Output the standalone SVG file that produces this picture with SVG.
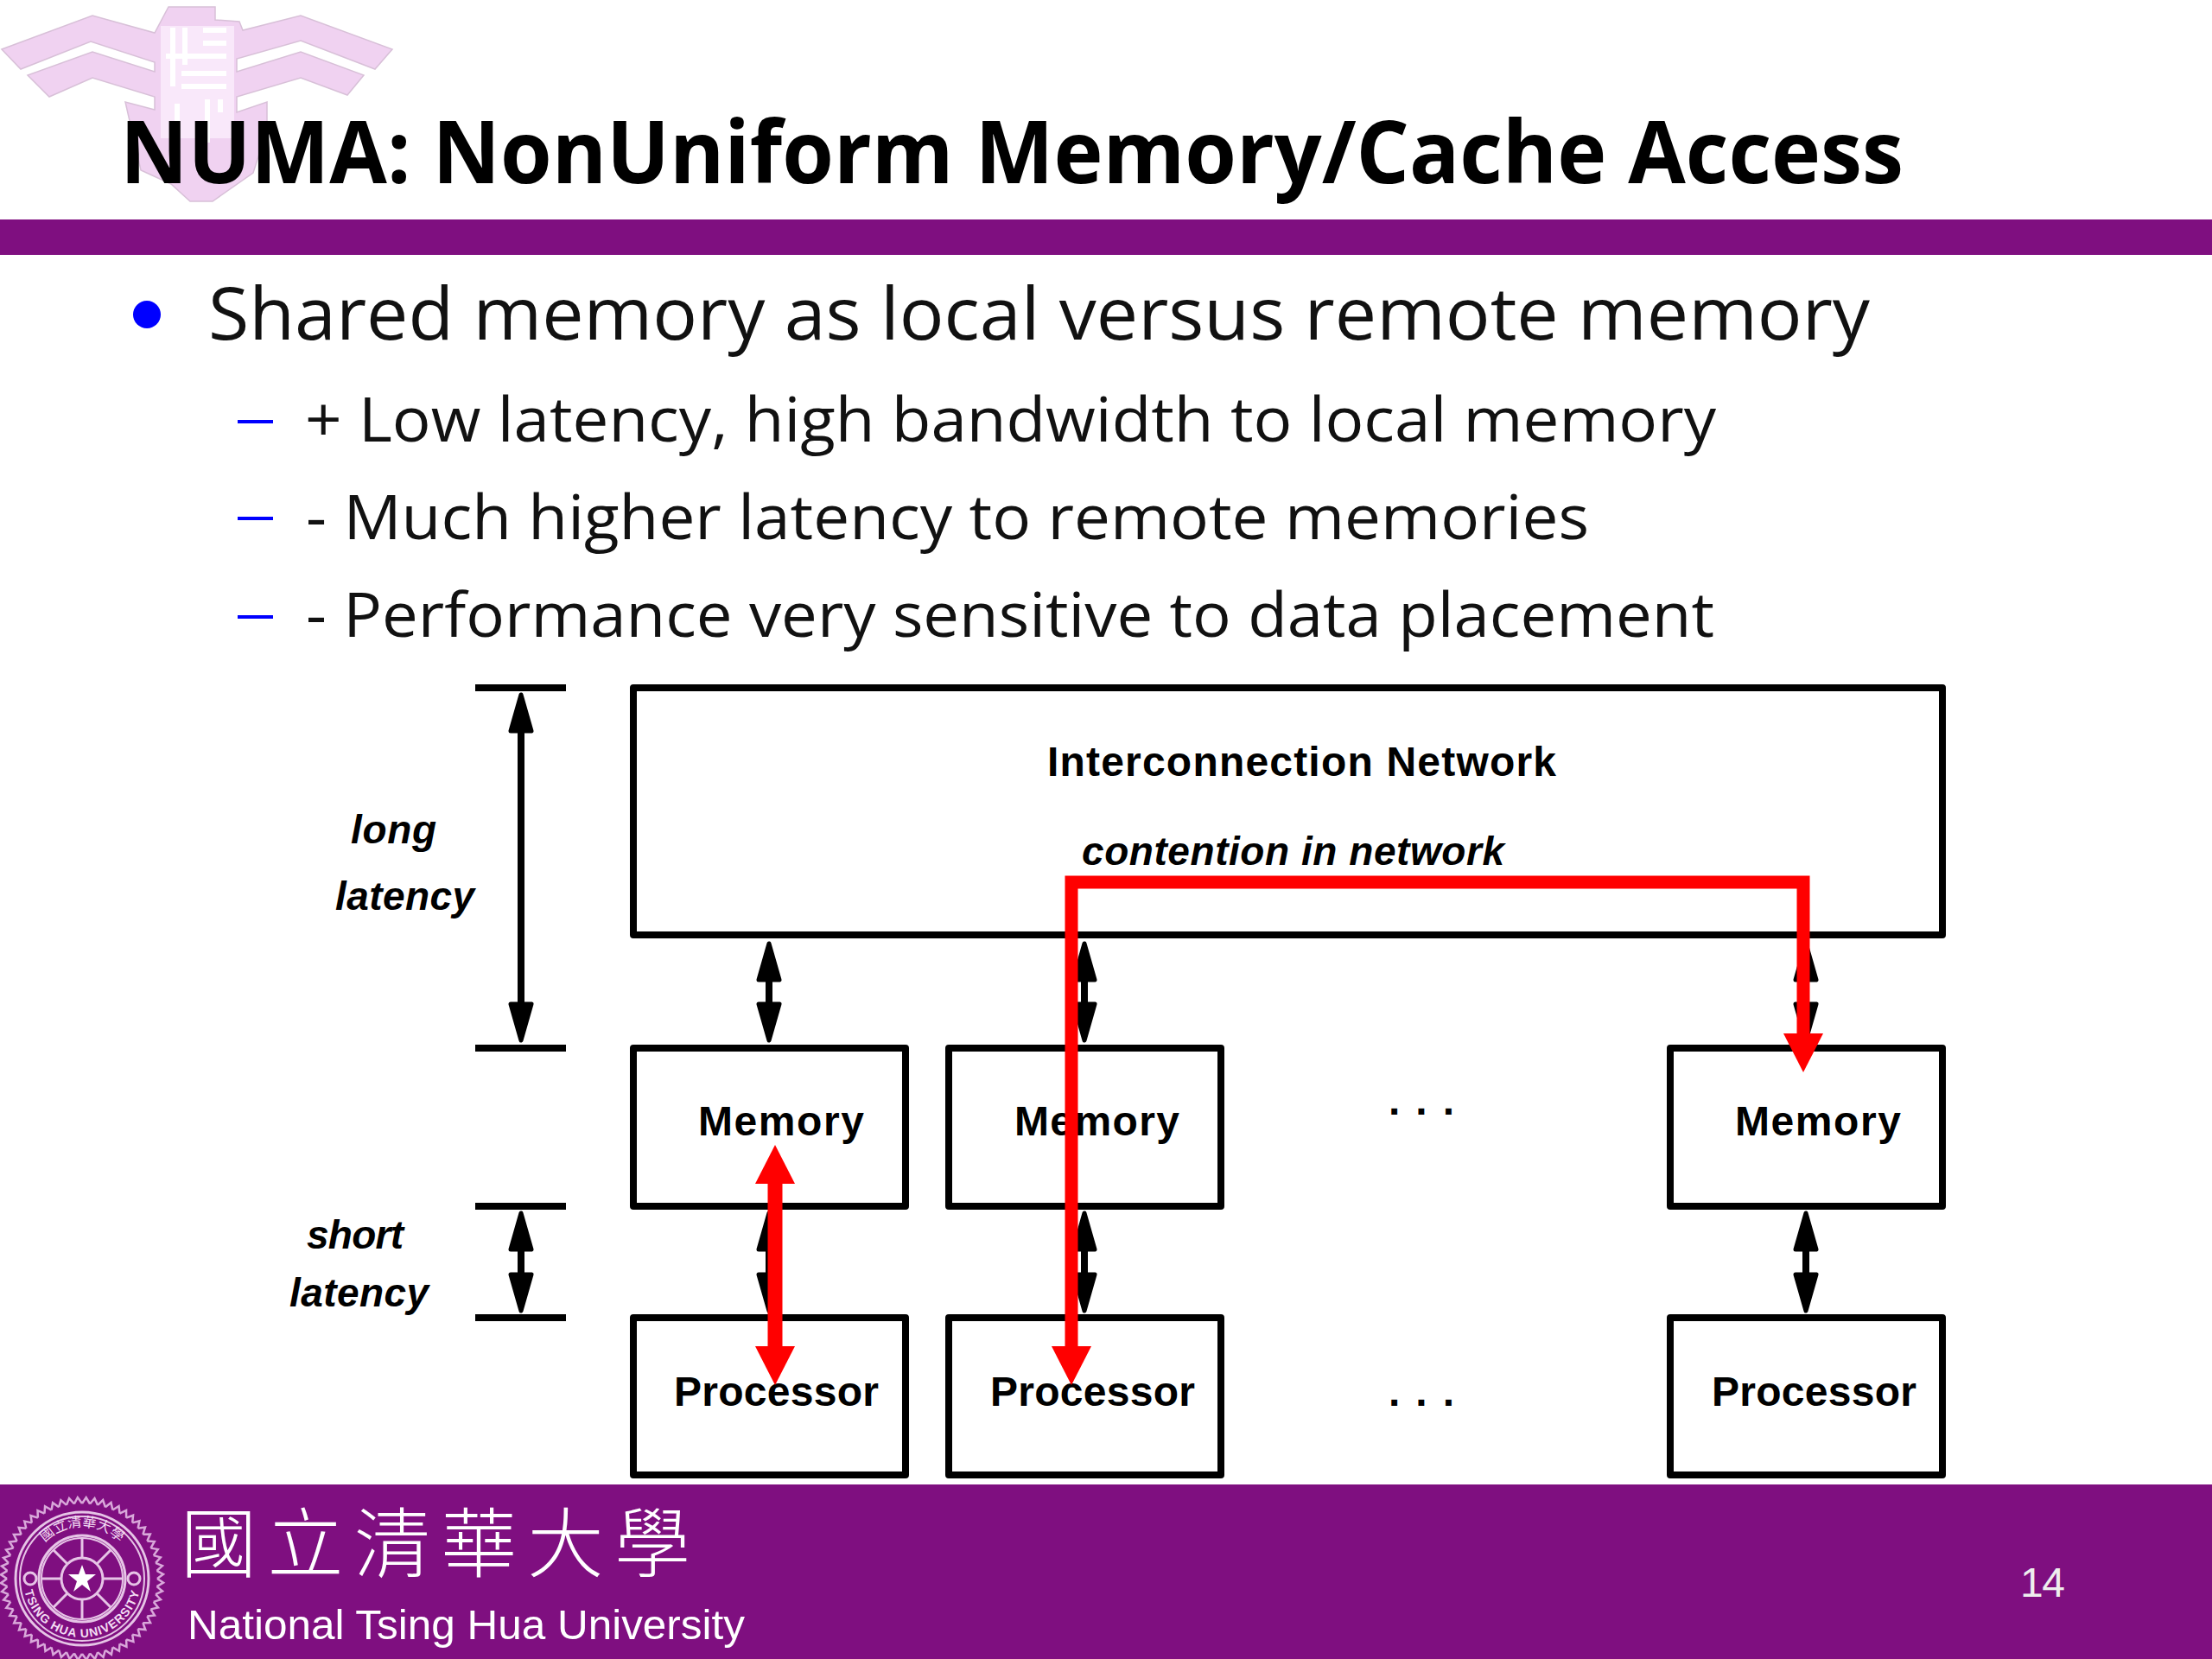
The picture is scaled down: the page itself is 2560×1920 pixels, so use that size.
<svg xmlns="http://www.w3.org/2000/svg" width="2560" height="1920" viewBox="0 0 2560 1920">
<style>
.title{font-family:"Open Sans","Noto Sans",sans-serif;font-weight:700;font-size:100px;fill:#000}
.body{font-family:"Open Sans","Noto Sans",sans-serif;fill:#111}
.l1{font-size:84px}.l2{font-size:71px}
.box{fill:#fff;stroke:#000;stroke-width:8;stroke-linejoin:round}
.nl{font-family:"Liberation Sans",Arial,sans-serif;font-weight:700;font-size:48px;fill:#000}
.it{font-family:"Liberation Sans",Arial,sans-serif;font-weight:700;font-style:italic;font-size:46px;fill:#000}
.dash{stroke:#0000ff;stroke-width:4;fill:none}
.dim{stroke:#000;stroke-width:8;fill:none}
.rd{stroke:#ff0000;stroke-width:15;fill:none;stroke-linejoin:miter}
.seal{fill:none;stroke:#e6c4e6}
</style>
<defs>
<polygon id="bh" points="0,0 12,42 -12,42" fill="#000" stroke="#000" stroke-width="5" stroke-linejoin="round"/>
<polygon id="rh" points="0,0 23,45 -23,45" fill="#ff0000"/>
<path id="t1" d="M0 -87L4.7 -94L9.1 -86.5" fill="none" stroke="#d9a8da" stroke-width="2.5"/>
<g id="t5"><use href="#t1"/><use href="#t1" transform="rotate(6)"/><use href="#t1" transform="rotate(12)"/><use href="#t1" transform="rotate(18)"/><use href="#t1" transform="rotate(24)"/></g>
<g id="t20"><use href="#t5"/><use href="#t5" transform="rotate(30)"/><use href="#t5" transform="rotate(60)"/><use href="#t5" transform="rotate(90)"/></g>
</defs>
<rect width="2560" height="1920" fill="#fff"/>

<g id="logo">
<polygon fill="#f0d2f1" stroke="#d8c0d8" stroke-width="1.5" points="2,57 107,18 179,38 195,8 249,8 249,23 277,25 281,35 348,18 454,57 434,80 348,47 274,68 274,83 348,60 421,87 402,110 348,90 274,112 274,130 309,118 309,150 293,200 246,233 220,233 198,213 163,197 145,118 179,127 179,112 107,90 57,112 32,87 107,60 179,83 179,72 105,48 24,80"/>
<rect x="186" y="30" width="85" height="130" fill="#f9e8fa"/>
<path d="M200 32V100M214 32V75M235 35H262M235 50H262M192 65H262M210 85H262M210 100H262M205 120V150M240 115V165M255 115V130" stroke="#fff" stroke-width="6" fill="none"/>
</g>

<rect id="top-band" x="0" y="254" width="2560" height="41" fill="#7f0f80"/>
<text id="title" class="title" x="139" y="212" textLength="2064" lengthAdjust="spacingAndGlyphs">NUMA: NonUniform Memory/Cache Access</text>

<g id="bullets">
<circle cx="170" cy="364" r="16" fill="#0000ff"/>
<text class="body l1" x="241" y="393" textLength="1923" lengthAdjust="spacingAndGlyphs">Shared memory as local versus remote memory</text>
<path class="dash" d="M275 488H316M275 600H316M275 714H316"/>
<text class="body l2" x="353" y="511" textLength="1633" lengthAdjust="spacingAndGlyphs">+ Low latency, high bandwidth to local memory</text>
<text class="body l2" x="354" y="624" textLength="1485" lengthAdjust="spacingAndGlyphs">- Much higher latency to remote memories</text>
<text class="body l2" x="354" y="737" textLength="1630" lengthAdjust="spacingAndGlyphs">- Performance very sensitive to data placement</text>
</g>

<g id="network"><rect class="box" x="733" y="796" width="1515" height="286"/>
<text class="nl" x="1212" y="898" textLength="589">Interconnection Network</text>
<text class="it" x="1252" y="1001" textLength="489">contention in network</text></g>
<g id="memory-1"><rect class="box" x="733" y="1213" width="315" height="183"/><text class="nl" x="808" y="1314" textLength="192">Memory</text></g>
<g id="memory-2"><rect class="box" x="1098" y="1213" width="315" height="183"/><text class="nl" x="1174" y="1314" textLength="191">Memory</text></g>
<g id="memory-3"><rect class="box" x="1933" y="1213" width="315" height="183"/><text class="nl" x="2008" y="1314" textLength="192">Memory</text></g>
<g id="processor-1"><rect class="box" x="733" y="1525" width="315" height="182"/><text class="nl" x="780" y="1627" textLength="237">Processor</text></g>
<g id="processor-2"><rect class="box" x="1098" y="1525" width="315" height="182"/><text class="nl" x="1146" y="1627" textLength="237">Processor</text></g>
<g id="processor-3"><rect class="box" x="1933" y="1525" width="315" height="182"/><text class="nl" x="1981" y="1627" textLength="237">Processor</text></g>
<g id="dots-1"><text class="nl" x="1607" y="1290" textLength="76">. . .</text></g>
<g id="dots-2"><text class="nl" x="1607" y="1627" textLength="76">. . .</text></g>
<g id="long-latency"><text class="it" x="406" y="976" textLength="99">long</text><text class="it" x="388" y="1053" textLength="161">latency</text></g>
<g id="short-latency"><text class="it" x="355" y="1445" textLength="112">short</text><text class="it" x="335" y="1512" textLength="161">latency</text></g>

<g id="connectors">
<path class="dim" d="M550 796H655M550 1213H655M550 1396H655M550 1525H655"/>
<g id="black-arrows" stroke="#000" stroke-width="8">
<path d="M603 830V1180M603 1430V1495M890 1125V1175M890 1435V1490M1255 1125V1175M1255 1435V1490M2090 1125V1175M2090 1435V1490"/>
<use href="#bh" x="603" y="804"/><use href="#bh" transform="translate(603 1204) scale(1 -1)"/>
<use href="#bh" x="603" y="1404"/><use href="#bh" transform="translate(603 1517) scale(1 -1)"/>
<use href="#bh" x="890" y="1092"/><use href="#bh" transform="translate(890 1204) scale(1 -1)"/>
<use href="#bh" x="890" y="1404"/><use href="#bh" transform="translate(890 1517) scale(1 -1)"/>
<use href="#bh" x="1255" y="1092"/><use href="#bh" transform="translate(1255 1204) scale(1 -1)"/>
<use href="#bh" x="1255" y="1404"/><use href="#bh" transform="translate(1255 1517) scale(1 -1)"/>
<use href="#bh" x="2090" y="1092"/><use href="#bh" transform="translate(2090 1204) scale(1 -1)"/>
<use href="#bh" x="2090" y="1404"/><use href="#bh" transform="translate(2090 1517) scale(1 -1)"/>
</g>
<g id="red-arrows">
<path class="rd" style="stroke-width:17" d="M897 1368V1560"/>
<use href="#rh" x="897" y="1325"/><use href="#rh" transform="translate(897 1603) scale(1 -1)"/>
<path class="rd" d="M1240 1560V1021H2087V1205"/>
<use href="#rh" transform="translate(1240 1603) scale(1 -1)"/>
<use href="#rh" transform="translate(2087 1241) scale(1 -1)"/>
</g>
</g>

<g id="footer">
<rect x="0" y="1718" width="2560" height="202" fill="#7f0f80"/>
<g transform="translate(95 1827)"><use href="#t20"/><use href="#t20" transform="rotate(120)"/><use href="#t20" transform="rotate(240)"/></g>
<circle cx="95" cy="1827" r="77" class="seal" stroke-width="3"/>
<circle cx="95" cy="1827" r="72" class="seal" stroke-width="2"/>
<circle cx="95" cy="1827" r="50" class="seal" stroke-width="3"/>
<circle cx="95" cy="1827" r="47" class="seal" stroke-width="2"/>
<circle cx="95" cy="1827" r="24" class="seal" stroke-width="3"/>
<path class="seal" stroke-width="3" d="M95 1803V1780M95 1851V1874M71 1827H48M119 1827H142M78 1810L62 1794M112 1810L128 1794M78 1844L62 1860M112 1844L128 1860"/>
<circle cx="35" cy="1827" r="7" class="seal" stroke-width="3"/><circle cx="155" cy="1827" r="7" class="seal" stroke-width="3"/>
<polygon points="95,1811 99,1822 111,1822 101,1830 105,1842 95,1834 85,1842 89,1830 79,1822 91,1822" fill="#fff"/>
<path id="seal-top" d="M35 1827A60 60 0 0 1 155 1827" fill="none"/>
<path id="seal-bot" d="M27 1827A68 68 0 0 0 163 1827" fill="none"/>
<text font-family="'Noto Sans CJK TC',sans-serif" font-size="16" fill="#f3dcf3" text-anchor="middle"><textPath href="#seal-top" startOffset="50%">國立清華大學</textPath></text>
<text font-family="'Liberation Sans',sans-serif" font-weight="700" font-size="14" fill="#f3dcf3" text-anchor="middle" letter-spacing="1"><textPath href="#seal-bot" startOffset="50%">TSING HUA UNIVERSITY</textPath></text>
<text x="209" y="1818" font-family="'Noto Sans CJK TC',sans-serif" font-weight="300" font-size="88" fill="#fff" textLength="590">國立清華大學</text>
<text x="217" y="1897" font-family="'Liberation Sans',Arial,sans-serif" font-size="48" fill="#fff" textLength="645" lengthAdjust="spacingAndGlyphs">National Tsing Hua University</text>
<text x="2338" y="1848" font-family="'Liberation Sans',Arial,sans-serif" font-size="48" fill="#eee" textLength="52">14</text>
</g>
</svg>
